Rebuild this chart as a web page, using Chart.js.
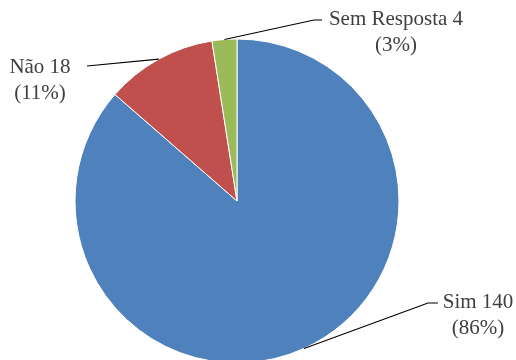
<!DOCTYPE html>
<html>
<head>
<meta charset="utf-8">
<script src="https://cdn.jsdelivr.net/npm/chart.js@4/dist/chart.umd.min.js"></script>
<style>
  html, body { margin: 0; padding: 0; background: #ffffff; overflow: hidden; }
  #wrap { width: 516px; height: 360px; overflow: hidden; position: relative; }
  canvas { display: block; }
</style>
</head>
<body>
<div id="wrap"><canvas id="c" width="516" height="400"></canvas></div>
<script>
// Survey answers
const categories = ['Sim', 'Não', 'Sem Resposta'];
const values = [140, 18, 4];
const pctLabels = ['86%', '11%', '3%'];
const colors = ['#4F81BD', '#C0504D', '#9BBB59'];

// Label placement: text centre (x) and first-line middle (y), plus leader path
const labelLayout = [
  { cx: 478, cy: 302, elbow: [428, 303], end: [438, 303] },
  { cx: 40,  cy: 67,  elbow: null,       end: [87, 66] },
  { cx: 396, cy: 19,  elbow: [314, 20],  end: [322, 20] }
];

const calloutPlugin = {
  id: 'callouts',
  afterDatasetsDraw(chart) {
    const ctx = chart.ctx;
    const meta = chart.getDatasetMeta(0);
    ctx.save();
    meta.data.forEach((arc, i) => {
      const p = arc.getProps(['x', 'y', 'startAngle', 'endAngle', 'outerRadius'], true);
      const mid = (p.startAngle + p.endAngle) / 2;
      const ax = p.x + Math.cos(mid) * p.outerRadius;
      const ay = p.y + Math.sin(mid) * p.outerRadius;
      const L = labelLayout[i];
      ctx.strokeStyle = '#000000';
      ctx.lineWidth = 1.2;
      ctx.beginPath();
      ctx.moveTo(ax, ay);
      if (L.elbow) ctx.lineTo(L.elbow[0], L.elbow[1]);
      ctx.lineTo(L.end[0], L.end[1]);
      ctx.stroke();

      ctx.fillStyle = '#404040';
      ctx.font = '21px "Liberation Serif", "DejaVu Serif", serif';
      ctx.textAlign = 'center';
      ctx.textBaseline = 'middle';
      ctx.fillText(categories[i] + ' ' + values[i], L.cx, L.cy);
      ctx.fillText('(' + pctLabels[i] + ')', L.cx, L.cy + 26);
    });
    ctx.restore();
  }
};

new Chart(document.getElementById('c'), {
  type: 'pie',
  data: {
    labels: categories,
    datasets: [{
      data: values,
      backgroundColor: colors,
      borderColor: '#ffffff',
      borderWidth: 1
    }]
  },
  options: {
    responsive: false,
    animation: false,
    radius: 162,
    layout: { padding: { left: 75, right: 117, top: 39, bottom: 37 } },
    plugins: {
      legend: { display: false },
      tooltip: { enabled: false }
    }
  },
  plugins: [calloutPlugin]
});
</script>
</body>
</html>
